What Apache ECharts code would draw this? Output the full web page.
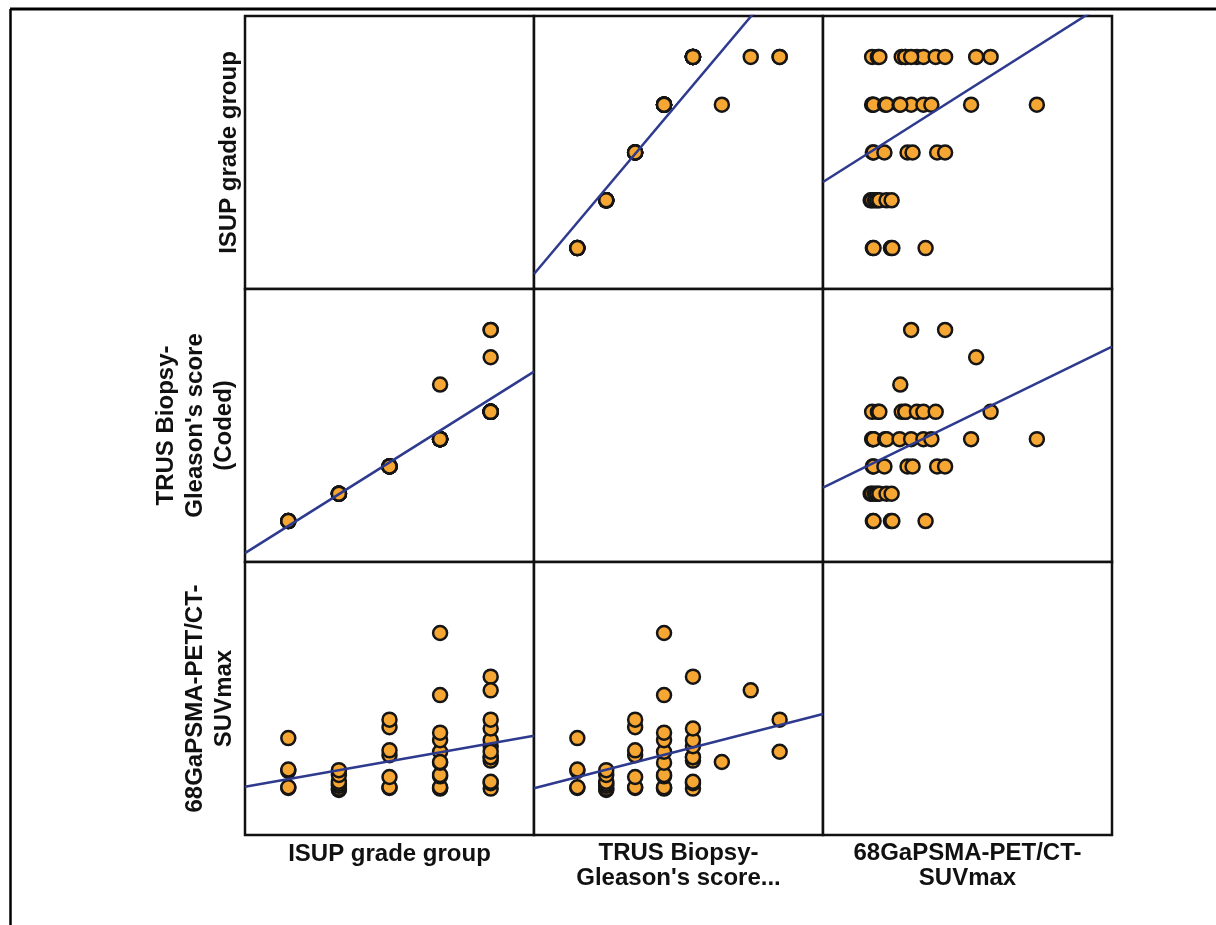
<!DOCTYPE html>
<html><head><meta charset="utf-8">
<script src="https://cdn.jsdelivr.net/npm/echarts@6/dist/echarts.min.js"></script>
<style>html,body{margin:0;padding:0;background:#fff;} #chart{width:1216px;height:925px;}</style>
</head><body><div id="chart"></div>
<script>
// Variable titles (row titles on the left, column titles at the bottom)
const rowTitles = ['ISUP grade group', "TRUS Biopsy-\nGleason's score\n(Coded)", '68GaPSMA-PET/CT-\nSUVmax'];
const colTitles = ['ISUP grade group', "TRUS Biopsy-\nGleason's score...", '68GaPSMA-PET/CT-\nSUVmax'];

// One entry per patient
const isup = [1,1,1,1,1, 2,2,2,2,2,2,2, 3,3,3,3,3,3,3, 4,4,4,4,4,4,4,4,4,4,4, 4, 5,5,5,5,5,5,5,5,5,5, 5, 5,5];
const trus = [1,1,1,1,1, 2,2,2,2,2,2,2, 3,3,3,3,3,3,3, 4,4,4,4,4,4,4,4,4,4,4, 6, 5,5,5,5,5,5,5,5,5,5, 7, 8,8];
const suvmax = [6.9,7.0,9.4,9.6,14.2, 6.6,6.8,7.2,7.5,7.8,8.8,9.5, 6.9,7.0,8.5,11.7,12.4,15.8,16.9,
  6.8,6.9,7.0,8.6,8.8,10.6,12.2,13.9,15.0,20.5,29.6, 10.7, 6.8,7.6,7.8,10.9,11.4,11.4,13.0,13.9,15.6,23.2, 21.2, 12.2,16.9];

// Axis ranges for each variable
const axisMin = [0.144, -0.5, 0];
const axisMax = [5.856, 9.5, 40];

const vars = [isup, trus, suvmax];

const chart = echarts.init(document.getElementById('chart'), null, {renderer: 'canvas'});

const L = [245, 534, 823], T = [16, 289, 562], W = 289, H = 273;
const FONT = 'Liberation Sans, Arial, sans-serif';
const yGap = [1, 6, 6];
const xGap = [7, 6, 6];

function fit(xs, ys) {
  const n = xs.length;
  let mx = 0, my = 0;
  for (let i = 0; i < n; i++) { mx += xs[i]; my += ys[i]; }
  mx /= n; my /= n;
  let sxx = 0, sxy = 0;
  for (let i = 0; i < n; i++) { sxx += (xs[i]-mx)*(xs[i]-mx); sxy += (xs[i]-mx)*(ys[i]-my); }
  const b = sxy / sxx;
  return [my - b*mx, b];
}

const grid = [], xAxis = [], yAxis = [], series = [];
let k = 0;
for (let r = 0; r < 3; r++) {
  for (let c = 0; c < 3; c++) {
    grid.push({left: L[c], top: T[r], width: W, height: H, show: true,
      borderColor: '#111', borderWidth: 2.5, backgroundColor: '#fff'});
    const blank = {axisLine:{show:false}, axisTick:{show:false}, axisLabel:{show:false}, splitLine:{show:false}};
    xAxis.push(Object.assign({type:'value', gridIndex:k, min:axisMin[c], max:axisMax[c], show:true,
      name: r === 2 ? colTitles[c] : '', nameLocation:'middle', nameGap: xGap[c],
      nameTextStyle:{fontFamily:FONT, fontWeight:'bold', fontSize:24, lineHeight:25, color:'#111', verticalAlign:'top'}}, blank));
    yAxis.push(Object.assign({type:'value', gridIndex:k, min:axisMin[r], max:axisMax[r], show:true,
      name: c === 0 ? rowTitles[r] : '', nameLocation:'middle', nameRotate:90, nameGap: yGap[r],
      nameTextStyle:{fontFamily:FONT, fontWeight:'bold', fontSize:24, lineHeight:29, color:'#111'}}, blank));
    if (r !== c) {
      const xs = vars[c], ys = vars[r];
      series.push({type:'scatter', xAxisIndex:k, yAxisIndex:k, symbol:'circle', symbolSize:14,
        itemStyle:{color:'#F6A633', borderColor:'#151515', borderWidth:2.5, opacity:1},
        data: xs.map((v, i) => [v, ys[i]]), z:2, silent:true});
      const [a, b] = fit(xs, ys);
      series.push({type:'line', xAxisIndex:k, yAxisIndex:k, symbol:'none', clip:true, silent:true,
        lineStyle:{color:'#2D3A8E', width:2.5},
        data: [[axisMin[c], a + b*axisMin[c]], [axisMax[c], a + b*axisMax[c]]], z:3});
    }
    k++;
  }
}

chart.setOption({
  animation:false,
  backgroundColor:'#fff',
  grid, xAxis, yAxis, series,
  graphic:[
    {type:'line', shape:{x1:10, y1:9, x2:1216, y2:9}, style:{stroke:'#000', lineWidth:3}},
    {type:'line', shape:{x1:10.5, y1:9, x2:10.5, y2:925}, style:{stroke:'#000', lineWidth:2.5}}
  ]
});
</script></body></html>
